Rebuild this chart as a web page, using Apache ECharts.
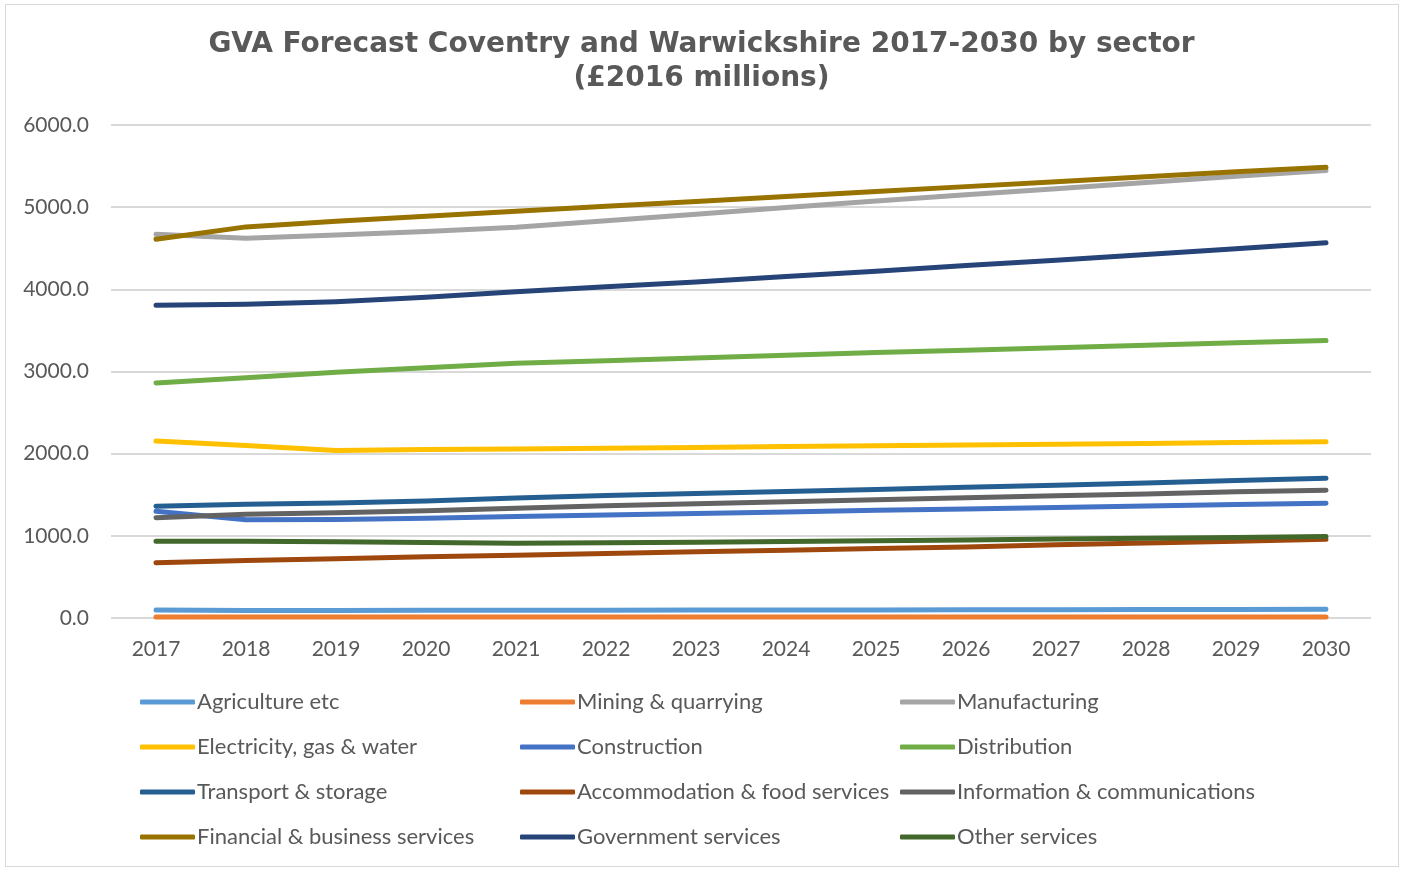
<!DOCTYPE html>
<html>
<head>
<meta charset="utf-8">
<script src="https://cdn.jsdelivr.net/npm/echarts@6/dist/echarts.min.js"></script>
<style>
  html, body { margin: 0; padding: 0; background: #fff; }
  #frame { position: absolute; left: 5px; top: 4px; width: 1394px; height: 863px; border: 1px solid #d9d9d9; box-sizing: border-box; }
  #chart { position: absolute; left: 0; top: 0; width: 1403px; height: 870px; }
</style>
</head>
<body>
<div id="frame"></div>
<div id="chart"></div>
<script>
// Years on the category axis
const years = ['2017','2018','2019','2020','2021','2022','2023','2024','2025','2026','2027','2028','2029','2030'];

// GVA by sector, £2016 millions
const agriculture   = [98, 92, 92, 93, 94, 95, 96, 97, 98, 99, 100, 102, 103, 105];
const mining        = [12, 11, 11, 11, 11, 11, 11, 11, 11, 11, 11, 11, 11, 11];
const manufacturing = [4670, 4622, 4660, 4705, 4756, 4835, 4915, 4995, 5075, 5150, 5225, 5300, 5375, 5447];
const electricity   = [2154, 2100, 2040, 2050, 2056, 2066, 2076, 2086, 2096, 2105, 2115, 2124, 2135, 2146];
const construction  = [1300, 1195, 1200, 1215, 1235, 1255, 1272, 1290, 1310, 1328, 1345, 1363, 1380, 1398];
const distribution  = [2861, 2925, 2990, 3045, 3100, 3130, 3165, 3199, 3230, 3260, 3290, 3320, 3350, 3378];
const transport     = [1361, 1385, 1400, 1425, 1460, 1490, 1515, 1540, 1565, 1590, 1615, 1642, 1672, 1702];
const accommodation = [671, 700, 722, 745, 765, 785, 805, 825, 845, 865, 890, 912, 935, 959];
const infoComms     = [1220, 1262, 1280, 1305, 1335, 1365, 1390, 1415, 1440, 1465, 1487, 1510, 1535, 1556];
const financial     = [4610, 4760, 4830, 4890, 4950, 5010, 5070, 5130, 5190, 5250, 5310, 5370, 5430, 5485];
const government    = [3805, 3817, 3850, 3905, 3970, 4030, 4090, 4155, 4220, 4290, 4355, 4425, 4495, 4568];
const otherServices = [934, 933, 928, 918, 910, 915, 922, 930, 940, 950, 960, 970, 980, 991];

// Value axis ticks
const yTicks = [0, 1000, 2000, 3000, 4000, 5000, 6000];

const sectors = [
  { name: 'Agriculture etc', data: agriculture, color: '#5B9BD5' },
  { name: 'Mining & quarrying', data: mining, color: '#ED7D31' },
  { name: 'Manufacturing', data: manufacturing, color: '#A5A5A5' },
  { name: 'Electricity, gas & water', data: electricity, color: '#FFC000' },
  { name: 'Construction', data: construction, color: '#4472C4' },
  { name: 'Distribution', data: distribution, color: '#70AD47' },
  { name: 'Transport & storage', data: transport, color: '#255E91' },
  { name: 'Accommodation & food services', data: accommodation, color: '#9E480E' },
  { name: 'Information & communications', data: infoComms, color: '#636363' },
  { name: 'Financial & business services', data: financial, color: '#997300' },
  { name: 'Government services', data: government, color: '#264478' },
  { name: 'Other services', data: otherServices, color: '#43682B' }
];

const font = 'Lato, "Open Sans", sans-serif';

function legendColumn(left, names) {
  return {
    orient: 'vertical',
    left: left,
    top: 691,
    padding: 0,
    itemWidth: 55,
    itemHeight: 5,
    itemGap: 23,
    icon: 'roundRect',
    data: names,
    textStyle: { color: '#595959', fontSize: 22, fontFamily: font, padding: [0, 0, 0, -3], lineHeight: 22 }
  };
}

const chart = echarts.init(document.getElementById('chart'), null, { renderer: 'canvas' });
chart.setOption({
  animation: false,
  backgroundColor: 'transparent',
  title: {
    text: 'GVA Forecast Coventry and Warwickshire 2017-2030 by sector\n(£2016 millions)',
    left: 'center',
    top: 23,
    textStyle: {
      fontFamily: '"DejaVu Sans", Verdana, sans-serif',
      fontWeight: 'bold',
      fontSize: 28,
      lineHeight: 34,
      color: '#595959'
    }
  },
  legend: [
    legendColumn(140, [sectors[0].name, sectors[3].name, sectors[6].name, sectors[9].name]),
    legendColumn(520, [sectors[1].name, sectors[4].name, sectors[7].name, sectors[10].name]),
    legendColumn(900, [sectors[2].name, sectors[5].name, sectors[8].name, sectors[11].name])
  ],
  grid: { left: 111, right: 32, top: 125, bottom: 252 },
  xAxis: {
    type: 'category',
    data: years,
    boundaryGap: true,
    axisLine: { show: false },
    axisTick: { show: false },
    axisLabel: { color: '#595959', fontSize: 21, fontFamily: font, margin: 21 }
  },
  yAxis: {
    type: 'value',
    min: yTicks[0],
    max: yTicks[yTicks.length - 1],
    interval: 1000,
    axisLine: { show: false },
    axisTick: { show: false },
    splitLine: { lineStyle: { color: '#d9d9d9', width: 2 } },
    axisLabel: {
      color: '#595959', fontSize: 21, fontFamily: font, margin: 22,
      formatter: v => v.toFixed(1)
    }
  },
  series: sectors.map(s => ({
    name: s.name,
    type: 'line',
    data: s.data,
    symbol: 'none',
    color: s.color,
    lineStyle: { width: 5, color: s.color, cap: 'round', join: 'round' }
  }))
});
</script>
</body>
</html>
